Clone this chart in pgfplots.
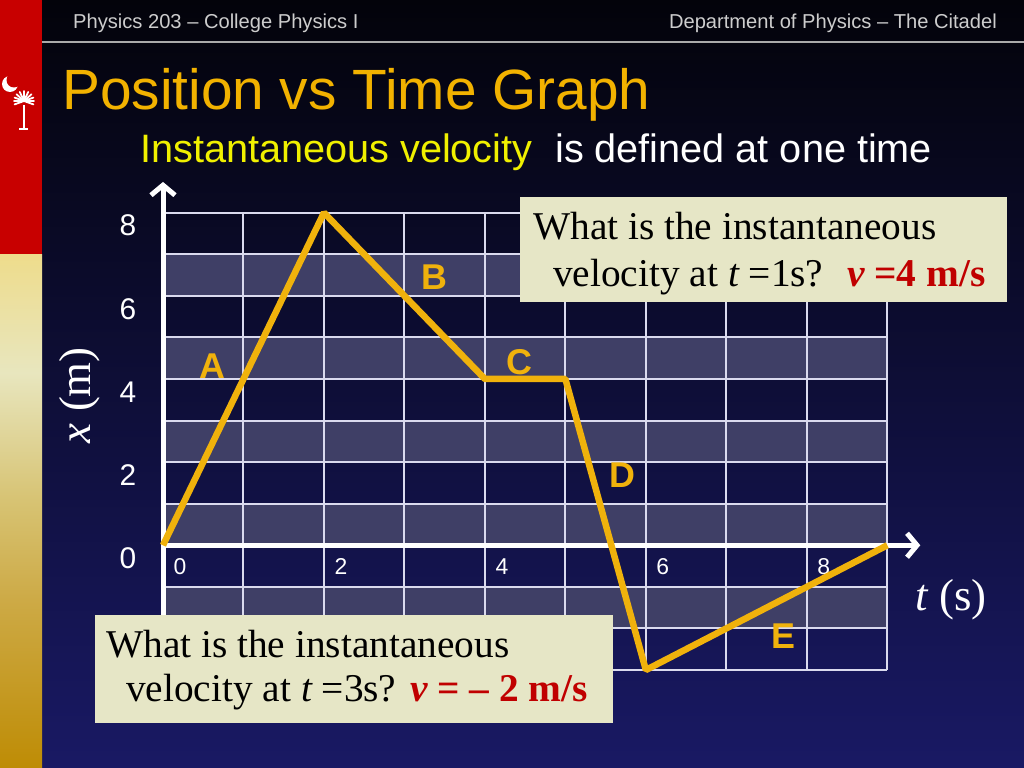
\documentclass[border=0pt]{standalone}
\usepackage{fontspec}
\setmainfont{Liberation Sans}
\newfontfamily\tnr{Liberation Serif}
\usepackage{pgfplots}
\pgfplotsset{compat=1.18}
\usetikzlibrary{arrows.meta}

\definecolor{bgtop}{RGB}{3,3,10}
\definecolor{bgbot}{RGB}{25,25,100}
\definecolor{sbred}{RGB}{200,0,0}
\definecolor{sb0}{RGB}{190,140,5}
\definecolor{sb1}{RGB}{205,170,70}
\definecolor{sb2}{RGB}{215,195,115}
\definecolor{sb3}{RGB}{232,230,190}
\definecolor{sb4}{RGB}{238,220,140}
\definecolor{hdr}{RGB}{205,205,205}
\definecolor{hline}{RGB}{170,170,170}
\definecolor{ttl}{RGB}{242,178,0}
\definecolor{subyel}{RGB}{240,240,0}
\definecolor{lightrow}{RGB}{63,63,102}
\definecolor{gridc}{RGB}{218,218,238}
\definecolor{linec}{RGB}{240,178,12}
\definecolor{boxc}{RGB}{230,230,198}
\definecolor{ansred}{RGB}{192,0,0}

\pgfdeclareverticalshading{sidebar}{100bp}{color(0bp)=(sb0); color(25bp)=(sb0); color(41.4bp)=(sb1); color(51.1bp)=(sb2); color(63.5bp)=(sb3); color(75bp)=(sb4); color(100bp)=(sb4)}

\newcommand\fs[1]{\fontsize{#1}{#1}\selectfont}

\begin{document}
\begin{tikzpicture}
\shade[top color=bgtop, bottom color=bgbot] (0,0) rectangle (1024bp,768bp);
\fill[sbred] (0,513bp) rectangle (42bp,768bp);
\shade[shading=sidebar] (0,0) rectangle (42bp,513bp);

% slide furniture, in pixel units from the top left
\begin{scope}[shift={(0,768bp)}, x=1bp, y=-1bp]
  \draw[hline, line width=2bp] (42,42) -- (1024,42);
  \node[anchor=base west, inner sep=0, text=hdr, font=\fs{20.2}] at (73,29) {Physics 203 – College Physics I};
  \node[anchor=base east, inner sep=0, text=hdr, font=\fs{20.2}] at (997,29) {Department of Physics – The Citadel};
  % palmetto and crescent
  \fill[white] (10,84) circle (8);
  \fill[sbred] (14,80) circle (7.5);
  \fill[white] (22.8,105) rectangle (24.8,128);
  \draw[white, line width=2bp] (19,129) -- (28,129);
  \foreach \a in {160,180,200,222,245,270,295,318,340,0,20}
    \draw[white, line width=1.8bp, line cap=round] (24,101) -- ++(\a:10);
  % titles
  \node[anchor=base west, inner sep=0, text=ttl, font=\fs{57}] at (62,110) {Position vs Time Graph};
  \node[anchor=base west, inner sep=0, text=subyel, font=\fs{39.8}] at (140,163) {Instantaneous velocity};
  \node[anchor=base west, inner sep=0, text=white, font=\fs{39.8}] at (555,163) {is defined at one time};
  % light bands of the grid
  \foreach \yt/\yb in {254.3/295.8, 337.4/379.0, 420.5/462.1, 503.6/545.2, 586.8/628.3}
    \fill[lightrow] (163,\yt) rectangle (887.3,\yb);
\end{scope}

\begin{axis}[
  at={(163bp,98bp)}, anchor=south west,
  scale only axis, width=724.3bp, height=457.3bp,
  xmin=0, xmax=9, ymin=-3, ymax=8,
  axis line style={draw=none},
  major tick length=0pt,
  xtick={0,...,9}, ytick={-3,...,8},
  xticklabels={0,,2,,4,,6,,8,},
  yticklabels={,,,0,,2,,4,,6,,8},
  grid=major,
  grid style={draw=gridc, line width=2bp},
  xticklabel style={font=\fs{23}, text=white, anchor=center, xshift=17bp, yshift=103bp},
  yticklabel style={font=\fs{30}, text=white, anchor=center, xshift=-35bp, yshift=-13bp},
  xlabel={{\itshape t} (s)},
  ylabel={{\itshape x} (m)},
  xlabel style={font=\tnr\fs{45}, text=white, at={(axis description cs:1.088,0.153)}, anchor=center},
  ylabel style={font=\tnr\fs{45}, text=white, at={(axis description cs:-0.1146,0.601)}, anchor=center},
  clip=false,
]
\draw[white, line width=5bp, -{Straight Barb[length=10bp, width=24bp]}] (axis cs:0,-3) -- (axis cs:0,8.74);
\draw[white, line width=5bp, -{Straight Barb[length=10bp, width=24bp]}] (axis cs:0,0) -- (axis cs:9.41,0);
\addplot[color=linec, line width=6.5bp, line join=bevel, mark=none] coordinates {
  (0,0) (2,8) (4,4) (5,4) (6,-3) (9,0)
};
\node[text=linec, font=\bfseries\fs{36}] at (axis cs:0.609,4.31) {A};
\node[text=linec, font=\bfseries\fs{36}] at (axis cs:3.367,6.45) {B};
\node[text=linec, font=\bfseries\fs{36}] at (axis cs:4.423,4.41) {C};
\node[text=linec, font=\bfseries\fs{36}] at (axis cs:5.703,1.69) {D};
\node[text=linec, font=\bfseries\fs{36}] at (axis cs:7.704,-2.18) {E};
\end{axis}

% question boxes
\begin{scope}[shift={(0,768bp)}, x=1bp, y=-1bp]
  \fill[boxc] (520,197) rectangle (1007,302);
  \node[anchor=base west, inner sep=0, font=\tnr\fs{39.5}] at (533,240) {What is the instantaneous};
  \node[anchor=base west, inner sep=0, font=\tnr\fs{39.5}] at (553,287) {velocity at {\itshape t} =1s?};
  \node[anchor=base west, inner sep=0, text=ansred, font=\tnr\bfseries\fs{39.5}] at (847,287) {{\itshape v} =4 m/s};
  \fill[boxc] (95,615) rectangle (613,723);
  \node[anchor=base west, inner sep=0, font=\tnr\fs{39.5}] at (106,658) {What is the instantaneous};
  \node[anchor=base west, inner sep=0, font=\tnr\fs{39.5}] at (126,702) {velocity at {\itshape t} =3s?};
  \node[anchor=base west, inner sep=0, text=ansred, font=\tnr\bfseries\fs{39.5}] at (410,702) {{\itshape v} = – 2 m/s};
\end{scope}
\pgfresetboundingbox
\useasboundingbox (0,0) rectangle (1024bp,768bp);
\end{tikzpicture}
\end{document}
